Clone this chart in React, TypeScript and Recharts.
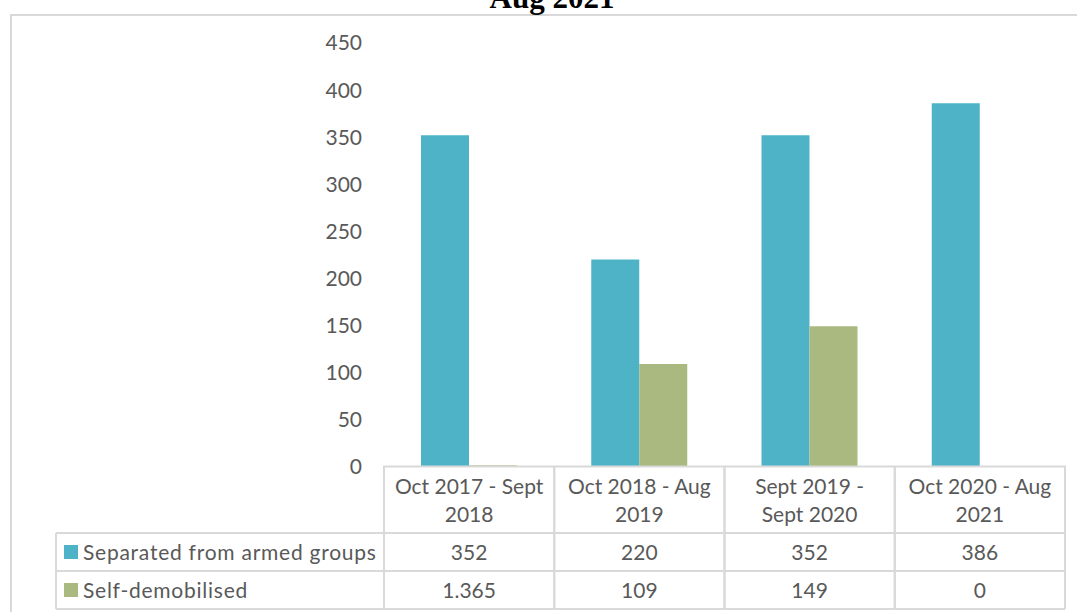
import { BarChart, Bar, XAxis, YAxis } from 'recharts'

const categories = ['Oct 2017 - Sept 2018', 'Oct 2018 - Aug 2019', 'Sept 2019 - Sept 2020', 'Oct 2020 - Aug 2021']
const headerLines = [
  ['Oct 2017 - Sept', '2018'],
  ['Oct 2018 - Aug', '2019'],
  ['Sept 2019 -', 'Sept 2020'],
  ['Oct 2020 - Aug', '2021'],
]
const separated = [352, 220, 352, 386]
const selfDemobilised = [1.365, 109, 149, 0]
const yTicks = [0, 50, 100, 150, 200, 250, 300, 350, 400, 450]

const series = [
  { key: 'separated', name: 'Separated from armed groups', color: '#4FB3C8', values: separated },
  { key: 'selfDemobilised', name: 'Self-demobilised', color: '#A9B97F', values: selfDemobilised },
]

const data = categories.map((name, i) => ({
  name,
  separated: separated[i],
  selfDemobilised: selfDemobilised[i],
}))

const W = 1077
const H = 612
const PLOT_LEFT = 384
const PLOT_RIGHT = 1065
const PLOT_TOP = 43
const PLOT_BOTTOM = 466.5
const BAND = (PLOT_RIGHT - PLOT_LEFT) / categories.length
const ROW_TOP = [467, 533, 571, 609]
const TEXT = '#595959'
const GRID = '#D9D9D9'
const FONT = 'Lato, "Open Sans", sans-serif'
const FS = 21

function TableTick(props: any) {
  const { payload, index } = props
  const cx = payload.coordinate
  const x0 = cx - BAND / 2
  const x1 = cx + BAND / 2
  const lines = headerLines[index] || [payload.value]
  return (
    <g>
      {ROW_TOP.slice(1).map(y => (
        <line key={y} x1={x0} x2={x1} y1={y} y2={y} stroke={GRID} strokeWidth={2} />
      ))}
      <line x1={x0} x2={x0} y1={ROW_TOP[0]} y2={ROW_TOP[3]} stroke={GRID} strokeWidth={2} />
      <line x1={x1} x2={x1} y1={ROW_TOP[0]} y2={ROW_TOP[3]} stroke={GRID} strokeWidth={2} />
      <text x={cx} y={494} textAnchor="middle" fill={TEXT} fontSize={FS} fontFamily={FONT}>{lines[0]}</text>
      <text x={cx} y={522} textAnchor="middle" fill={TEXT} fontSize={FS} fontFamily={FONT}>{lines[1]}</text>
      {series.map((s, r) => (
        <text key={s.key} x={cx} y={560 + r * 38} textAnchor="middle" fill={TEXT} fontSize={FS} fontFamily={FONT}>
          {String(s.values[index])}
        </text>
      ))}
    </g>
  )
}

export default function App() {
  return (
    <div style={{ position: 'absolute', left: 0, top: 0, width: W, height: H, overflow: 'hidden', background: '#fff' }}>
      <div style={{ position: 'absolute', left: 10, top: 14, width: 1200, height: 800, border: `2px solid ${GRID}`, boxSizing: 'border-box' }} />
      <BarChart
        width={W}
        height={H}
        data={data}
        margin={{ top: PLOT_TOP, right: W - PLOT_RIGHT, bottom: 0, left: 0 }}
        barGap={0}
        barSize={48}
        style={{ position: 'absolute', left: 0, top: 0 }}
      >
        <YAxis
          width={PLOT_LEFT}
          domain={[0, 450]}
          ticks={yTicks}
          axisLine={false}
          tickLine={false}
          tickSize={0}
          tickMargin={22}
          tick={{ fill: TEXT, fontSize: FS, fontFamily: FONT }}
        />
        <XAxis
          dataKey="name"
          height={H - PLOT_BOTTOM}
          axisLine={false}
          tickLine={false}
          interval={0}
          tick={<TableTick />}
        />
        {series.map(s => (
          <Bar key={s.key} dataKey={s.key} name={s.name} fill={s.color} isAnimationActive={false} />
        ))}
      </BarChart>
      <svg width={W} height={H} style={{ position: 'absolute', left: 0, top: 0, pointerEvents: 'none' }}>
        <text x={552} y={8} textAnchor="middle" fontFamily='"Liberation Serif", serif' fontWeight="bold" fontSize={31} fill="#000">
          Aug 2021
        </text>
        <line x1={PLOT_LEFT - 1} x2={PLOT_RIGHT + 1} y1={ROW_TOP[0] - 0.5} y2={ROW_TOP[0] - 0.5} stroke={GRID} strokeWidth={2} />
        <line x1={56} x2={PLOT_LEFT} y1={ROW_TOP[1]} y2={ROW_TOP[1]} stroke={GRID} strokeWidth={2} />
        <line x1={56} x2={PLOT_LEFT} y1={ROW_TOP[2]} y2={ROW_TOP[2]} stroke={GRID} strokeWidth={2} />
        <line x1={56} x2={PLOT_LEFT} y1={ROW_TOP[3]} y2={ROW_TOP[3]} stroke={GRID} strokeWidth={2} />
        <line x1={56} x2={56} y1={ROW_TOP[1]} y2={ROW_TOP[3]} stroke={GRID} strokeWidth={2} />
        {series.map((s, r) => (
          <g key={s.key}>
            <rect x={64} y={545 + r * 38} width={14} height={14} fill={s.color} />
            <text x={83} y={560 + r * 38} fill={TEXT} fontSize={FS} fontFamily={FONT} letterSpacing={0.75}>{s.name}</text>
          </g>
        ))}
      </svg>
    </div>
  )
}
